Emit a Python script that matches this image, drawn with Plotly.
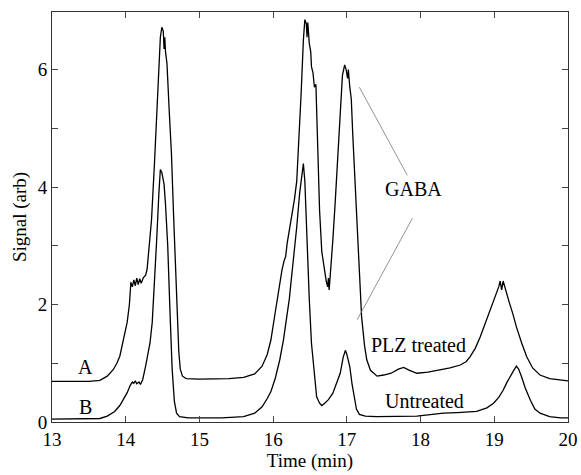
import plotly.graph_objects as go

# Trace A: PLZ treated (time in min, signal in arb)
time_a = [13.00, 13.50, 13.65, 13.75, 13.83, 13.88, 13.92, 13.95, 13.98, 14.02, 14.05, 14.07, 14.09, 14.11,
          14.13, 14.15, 14.17, 14.19, 14.21, 14.24, 14.27, 14.29, 14.31, 14.35, 14.39, 14.42, 14.45, 14.47,
          14.49, 14.51, 14.52, 14.53, 14.54, 14.56, 14.59, 14.62, 14.65, 14.67, 14.70, 14.72, 14.74, 14.77,
          14.82, 15.00, 15.40, 15.60, 15.75, 15.85, 15.92, 15.97, 16.02, 16.05, 16.08, 16.12, 16.15, 16.17,
          16.19, 16.22, 16.25, 16.29, 16.32, 16.35, 16.38, 16.41, 16.43, 16.45, 16.46, 16.47, 16.49, 16.51,
          16.52, 16.54, 16.56, 16.58, 16.60, 16.63, 16.66, 16.69, 16.72, 16.74, 16.75, 16.76, 16.78, 16.81,
          16.84, 16.87, 16.91, 16.94, 16.97, 16.99, 17.01, 17.02, 17.04, 17.06, 17.08, 17.12, 17.16, 17.20,
          17.24, 17.27, 17.32, 17.41, 17.50, 17.60, 17.70, 17.77, 17.85, 17.95, 18.10, 18.26, 18.40, 18.54,
          18.62, 18.67, 18.74, 18.81, 18.87, 18.94, 18.98, 19.03, 19.06, 19.08, 19.10, 19.12, 19.14, 19.17,
          19.20, 19.25, 19.30, 19.37, 19.44, 19.52, 19.62, 19.75, 19.90, 20.00]
signal_a = [0.69, 0.69, 0.71, 0.78, 0.89, 1.00, 1.12, 1.30, 1.42, 1.70, 2.00, 2.38, 2.30, 2.42,
            2.32, 2.45, 2.34, 2.44, 2.36, 2.46, 2.50, 2.60, 2.88, 3.44, 4.40, 5.14, 6.00, 6.55,
            6.72, 6.65, 6.35, 6.55, 6.30, 6.10, 5.30, 4.58, 3.50, 2.87, 1.74, 1.20, 0.90, 0.78,
            0.74, 0.73, 0.74, 0.76, 0.82, 0.95, 1.15, 1.40, 1.80, 2.05, 2.30, 2.59, 2.75, 2.82,
            3.04, 3.25, 3.49, 3.80, 4.10, 4.80, 5.60, 6.50, 6.85, 6.78, 6.55, 6.80, 6.45, 6.30,
            6.05, 5.95, 5.70, 5.75, 4.80, 3.60, 2.90, 2.60, 2.40, 2.30, 2.45, 2.25, 2.55, 3.10,
            3.70, 4.40, 5.40, 5.90, 6.08, 6.00, 5.85, 6.00, 5.70, 5.50, 4.90, 3.80, 2.93, 1.79,
            1.30, 1.06, 0.88, 0.78, 0.80, 0.83, 0.90, 0.93, 0.88, 0.83, 0.85, 0.89, 0.92, 0.97,
            1.03, 1.11, 1.25, 1.45, 1.65, 1.91, 2.05, 2.19, 2.30, 2.40, 2.25, 2.40, 2.30, 2.20,
            2.05, 1.85, 1.62, 1.35, 1.11, 0.92, 0.80, 0.74, 0.71, 0.70]

# Trace B: Untreated
time_b = [13.00, 13.50, 13.65, 13.75, 13.85, 13.92, 13.97, 14.02, 14.06, 14.09, 14.11, 14.13, 14.15, 14.18,
          14.20, 14.23, 14.27, 14.30, 14.33, 14.36, 14.39, 14.42, 14.45, 14.47, 14.49, 14.52, 14.54, 14.57,
          14.60, 14.63, 14.66, 14.69, 14.73, 14.85, 15.30, 15.60, 15.75, 15.85, 15.92, 15.97, 16.03, 16.09,
          16.14, 16.18, 16.22, 16.25, 16.29, 16.32, 16.36, 16.39, 16.41, 16.43, 16.46, 16.49, 16.52, 16.56,
          16.59, 16.63, 16.66, 16.70, 16.75, 16.81, 16.86, 16.91, 16.95, 16.98, 17.00, 17.04, 17.07, 17.10,
          17.13, 17.17, 17.25, 17.40, 17.70, 17.95, 18.10, 18.31, 18.50, 18.76, 18.90, 18.99, 19.06, 19.12,
          19.17, 19.21, 19.26, 19.30, 19.33, 19.37, 19.42, 19.49, 19.55, 19.62, 19.75, 19.90, 20.00]
signal_b = [0.05, 0.05, 0.06, 0.10, 0.18, 0.28, 0.38, 0.50, 0.62, 0.68, 0.66, 0.70, 0.65, 0.68,
            0.64, 0.72, 0.95, 1.15, 1.35, 1.70, 2.30, 3.10, 3.90, 4.30, 4.25, 4.05, 3.70, 3.00,
            1.90, 0.90, 0.35, 0.15, 0.09, 0.07, 0.07, 0.09, 0.15, 0.26, 0.40, 0.52, 0.75, 1.06,
            1.40, 1.74, 2.10, 2.47, 2.90, 3.32, 3.90, 4.25, 4.40, 4.10, 3.04, 2.10, 1.34, 0.75,
            0.43, 0.32, 0.28, 0.32, 0.38, 0.49, 0.65, 0.83, 1.10, 1.22, 1.15, 0.94, 0.65, 0.40,
            0.22, 0.13, 0.10, 0.09, 0.09, 0.10, 0.12, 0.15, 0.16, 0.18, 0.24, 0.32, 0.42, 0.54,
            0.67, 0.77, 0.87, 0.95, 0.90, 0.77, 0.58, 0.37, 0.22, 0.15, 0.09, 0.07, 0.07]

x_ticks = [13, 14, 15, 16, 17, 18, 19, 20]
y_ticks = [0, 1, 2, 3, 4, 5, 6, 7]
y_tick_text = ["0", "", "2", "", "4", "", "6", ""]

# text labels: (text, x, y)
labels = [("A", 13.45, 0.93), ("B", 13.45, 0.25), ("PLZ treated", 17.97, 1.31),
          ("Untreated", 18.06, 0.36), ("GABA", 17.90, 3.96)]
# GABA pointer lines: (x0, y0, x1, y1)
pointers = [(17.17, 5.70, 17.82, 4.20), (17.89, 3.47, 17.14, 1.74)]

FONT = "Liberation Serif"

fig = go.Figure()
fig.add_trace(go.Scatter(x=time_a, y=signal_a, mode="lines",
                         line=dict(color="black", width=1.3), showlegend=False))
fig.add_trace(go.Scatter(x=time_b, y=signal_b, mode="lines",
                         line=dict(color="black", width=1.3), showlegend=False))

for txt, x, y in labels:
    fig.add_annotation(x=x, y=y, text=txt, showarrow=False,
                       font=dict(family=FONT, size=20, color="black"))
for x0, y0, x1, y1 in pointers:
    fig.add_shape(type="line", x0=x0, y0=y0, x1=x1, y1=y1,
                  line=dict(color="#777777", width=0.8))

fig.update_layout(
    width=581, height=475,
    margin=dict(l=52, r=13, t=12, b=53),
    paper_bgcolor="white", plot_bgcolor="white",
    font=dict(family=FONT, size=19, color="black"),
    xaxis=dict(range=[13, 20], tickvals=x_ticks, ticks="inside", ticklen=6,
               showline=True, linecolor="#333333", linewidth=1, mirror="ticks",
               showgrid=False, zeroline=False, automargin=False,
               title=dict(text="Time (min)", standoff=4, font=dict(size=19))),
    yaxis=dict(range=[0, 6.98], tickvals=y_ticks, ticktext=y_tick_text, ticks="inside", ticklen=6,
               showline=True, linecolor="#333333", linewidth=1, mirror="ticks",
               showgrid=False, zeroline=False, automargin=False,
               title=dict(text="Signal (arb)", standoff=6, font=dict(size=19))),
)

fig.write_html("out.html")
